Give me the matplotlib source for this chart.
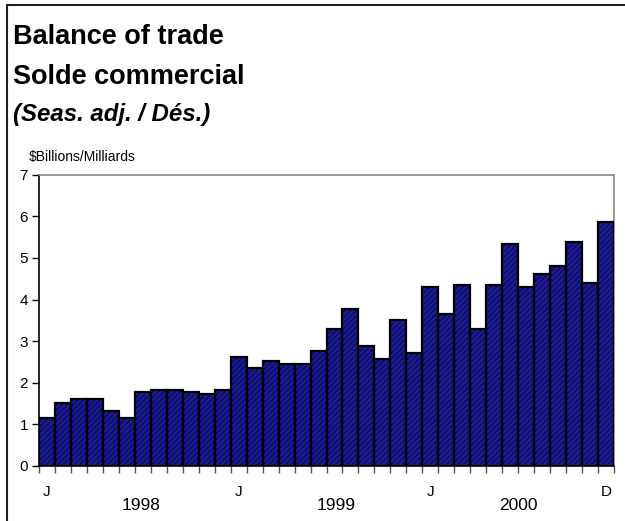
import matplotlib
matplotlib.use("Agg")
import matplotlib.pyplot as plt
from matplotlib.patches import Rectangle

# monthly balance of trade, Jan 1998 - Dec 2000 ($ billions)
values = [1.15, 1.51, 1.62, 1.62, 1.31, 1.15, 1.78, 1.83, 1.83, 1.78, 1.72, 1.83,
          2.62, 2.36, 2.52, 2.46, 2.46, 2.77, 3.29, 3.77, 2.88, 2.56, 3.51, 2.72,
          4.30, 3.66, 4.34, 3.29, 4.34, 5.34, 4.30, 4.61, 4.81, 5.39, 4.40, 5.87]
month_labels = {0: "J", 12: "J", 24: "J", 35: "D"}
year_labels = {6.4: "1998", 18.6: "1999", 30.0: "2000"}
yticks = [0, 1, 2, 3, 4, 5, 6, 7]

plt.rcParams['font.family'] = ['Liberation Sans', 'DejaVu Sans']

fig = plt.figure(figsize=(6.25, 5.21), dpi=100)
ax = fig.add_axes([0.0624, 0.1056, 0.92, 0.5591])

x = list(range(len(values)))
# hatched fill, then black outline on top
ax.bar(x, values, width=1.0, align='edge', color='#1c1c96', edgecolor='#0c0c5a',
       hatch='//////', linewidth=0, zorder=2)
ax.bar(x, values, width=1.0, align='edge', fill=False, edgecolor='black',
       linewidth=1.6, zorder=3)

ax.set_xlim(0, len(values))
ax.set_ylim(0, 7)
ax.set_yticks(yticks)
ax.tick_params(axis='y', labelsize=11, length=5, width=1, pad=3)
ax.set_xticks(range(len(values) + 1))
ax.set_xticklabels([])
ax.tick_params(axis='x', length=5, width=1, color='#555555')

for k, lab in month_labels.items():
    ax.text(k + 0.5, -0.62, lab, ha='center', va='center', fontsize=11)
for k, lab in year_labels.items():
    ax.text(k, -0.95, lab, ha='center', va='center', fontsize=12.5)

for s in ['top', 'right']:
    ax.spines[s].set_color('#888888')
    ax.spines[s].set_linewidth(1.2)
for s in ['left', 'bottom']:
    ax.spines[s].set_color('black')
    ax.spines[s].set_linewidth(1.2)

fig.text(13 / 625, 1 - 37 / 521, "Balance of trade", fontsize=19.5, fontweight='bold',
         va='center', ha='left')
fig.text(13 / 625, 1 - 77 / 521, "Solde commercial", fontsize=19.5, fontweight='bold',
         va='center', ha='left')
fig.text(13 / 625, 1 - 115 / 521, "(Seas. adj. / Dés.)", fontsize=17.3, fontweight='bold',
         style='italic', va='center', ha='left')
fig.text(29 / 625, 1 - 157 / 521, "$Billions/Milliards", fontsize=10,
         va='center', ha='left')

# outer frame
fig.patches.append(Rectangle((7 / 625, -0.1), 1.2, 1.1 - 5 / 521, transform=fig.transFigure,
                             fill=False, edgecolor='#222222', linewidth=1.5))

fig.savefig('out.png', dpi=100)
